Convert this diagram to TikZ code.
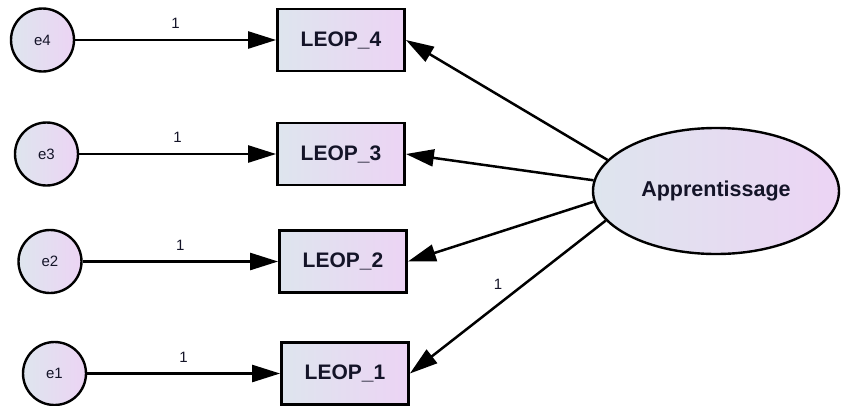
\documentclass[tikz,border=0pt]{standalone}
\usepackage{fontspec}
\setmainfont{Liberation Sans}
\usetikzlibrary{arrows.meta,shapes.geometric}
\definecolor{fillL}{RGB}{222,229,238}
\definecolor{fillR}{RGB}{236,212,244}
\definecolor{txt}{RGB}{20,20,40}
\tikzset{
  obs/.style={draw=black, line width=2.8pt, minimum width=127pt, minimum height=62pt,
    inner sep=0pt, left color=fillL, right color=fillR, text=txt,
    font=\fontsize{21}{21}\selectfont\bfseries},
  err/.style={circle, draw=black, line width=2.4pt, minimum size=63pt, inner sep=0pt,
    left color=fillL, right color=fillR, text=txt, font=\fontsize{15}{15}\selectfont},
  lat/.style={ellipse, draw=black, line width=2.4pt, minimum width=246pt, minimum height=126pt,
    inner sep=0pt, left color=fillL, right color=fillR, text=txt,
    font=\fontsize{21.5}{21.5}\selectfont\bfseries},
  arr/.style={line width=2.5pt, -{Triangle[length=28pt,width=17pt]}},
  one/.style={font=\fontsize{15}{15}\selectfont, inner sep=0pt, text=txt}
}
\begin{document}
\begin{tikzpicture}[x=1pt,y=-1pt]
\useasboundingbox (0,0) rectangle (841,405);
\node[obs] (b4) at (341,40) {LEOP\_4};
\node[obs] (b3) at (341,154) {LEOP\_3};
\node[obs] (b2) at (343,261.5) {LEOP\_2};
\node[obs] (b1) at (345,373.5) {LEOP\_1};
\node[err] (e4) at (42.5,40) {e4};
\node[err] (e3) at (46.5,154) {e3};
\node[err] (e2) at (50,261.5) {e2};
\node[err] (e1) at (54.5,373.5) {e1};
\node[lat] (ap) at (716,191) {Apprentissage};
\draw[arr] (e4) -- node[one, above=10pt, pos=0.5] {1} (b4);
\draw[arr] (e3) -- node[one, above=10pt, pos=0.5] {1} (b3);
\draw[arr] (e2) -- node[one, above=10pt, pos=0.5] {1} (b2);
\draw[arr] (e1) -- node[one, above=10pt, pos=0.5] {1} (b1);
\draw[arr] (ap.164) -- (b4.east);
\draw[arr] (ap.175) -- (b3.east);
\draw[arr] (ap.185) -- (b2.east);
\draw[arr] (ap.195) -- node[one, above=14pt, pos=0.55] {1} (b1.east);
\end{tikzpicture}
\end{document}
